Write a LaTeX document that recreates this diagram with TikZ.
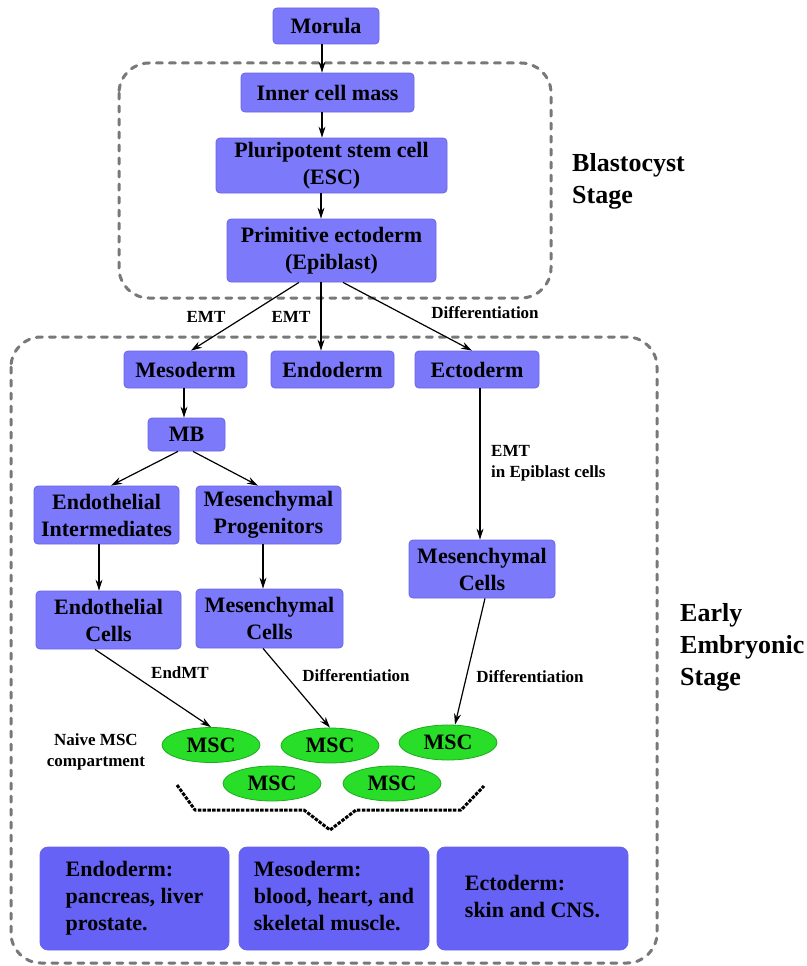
\documentclass[tikz,border=0pt]{standalone}
\usepackage{fontspec}
\setmainfont{Liberation Serif}
\usetikzlibrary{arrows.meta,shapes.geometric}
\definecolor{boxblue}{RGB}{124,121,250}
\definecolor{boxedge}{RGB}{104,100,232}
\definecolor{bigblue}{RGB}{102,98,246}
\definecolor{mscgreen}{RGB}{40,222,40}
\definecolor{mscedge}{RGB}{30,170,30}
\definecolor{stagegray}{RGB}{120,120,120}
\begin{document}
\begin{tikzpicture}[x=1pt,y=-1pt,
  cellbox/.style={draw=boxedge,line width=0.8pt,fill=boxblue,rounded corners=4pt,
    font=\fontsize{22}{27}\selectfont\bfseries,align=center,inner sep=0pt},
  bigbox/.style={draw=boxedge,line width=0.8pt,fill=bigblue,rounded corners=8pt,
    font=\fontsize{22}{27}\selectfont\bfseries,inner sep=0pt,
    minimum height=103pt},
  msc/.style={ellipse,draw=mscedge,line width=0.8pt,fill=mscgreen,minimum width=98pt,
    minimum height=35pt,inner sep=0pt,font=\fontsize{22}{27}\selectfont\bfseries},
  stagebox/.style={draw=stagegray,line width=3pt,dash pattern=on 6pt off 7pt,
    line cap=round,rounded corners=30pt},
  stagelabel/.style={font=\fontsize{26}{32}\selectfont\bfseries,align=left,anchor=west,inner sep=0pt},
  lab/.style={font=\fontsize{17}{21}\selectfont\bfseries,inner sep=0pt},
  arr/.style={-{Stealth[length=11pt,width=7pt]},line width=1.2pt},
]
\useasboundingbox (0,0) rectangle (806,966);

% stage frames
\draw[stagebox] (119,63) rectangle (551,298);
\draw[stagebox] (11,337) rectangle (657,963);
\node[stagelabel] (blast) at (572,181) {Blastocyst\\Stage};
\node[stagelabel] (early) at (680,647) {Early\\Embryonic\\Stage};

% blastocyst column
\node[cellbox,minimum width=106pt,minimum height=36pt] (morula) at (326,26) {Morula};
\node[cellbox,minimum width=173pt,minimum height=39pt] (icm) at (327.5,92.5) {Inner cell mass};
\node[cellbox,minimum width=231pt,minimum height=55pt] (esc) at (331.5,165.5) {Pluripotent stem cell\\(ESC)};
\node[cellbox,minimum width=209pt,minimum height=63pt] (epi) at (331.5,250.5) {Primitive ectoderm\\(Epiblast)};

\draw[arr] ([xshift=-4pt]morula.south) -- ([xshift=-5.5pt]icm.north);
\draw[arr] ([xshift=-5.5pt]icm.south) -- ([xshift=-9.5pt]esc.north);
\draw[arr] ([xshift=-10.5pt]esc.south) -- ([xshift=-10.5pt]epi.north);

% germ layers
\node[cellbox,minimum width=123pt,minimum height=37pt] (meso) at (185.5,369.5) {Mesoderm};
\node[cellbox,minimum width=123pt,minimum height=37pt] (endo) at (332.5,369.5) {Endoderm};
\node[cellbox,minimum width=124pt,minimum height=37pt] (ecto) at (477,369.5) {Ectoderm};

\draw[arr] ([xshift=-32.5pt]epi.south) -- ([xshift=5.5pt]meso.north);
\draw[arr] ([xshift=-10.5pt]epi.south) -- ([xshift=-11.5pt]endo.north);
\draw[arr] ([xshift=11.5pt]epi.south) -- ([xshift=-5pt]ecto.north);
\node[lab] (lemt1) at (206,317) {EMT};
\node[lab] (lemt2) at (291,317) {EMT};
\node[lab] (ldiff0) at (485,313) {Differentiation};

% mesoderm branch
\node[cellbox,minimum width=77pt,minimum height=33pt] (mb) at (186.5,434.5) {MB};
\draw[arr] ([xshift=-1.5pt]meso.south) -- ([xshift=-2.5pt]mb.north);
\node[cellbox,minimum width=145pt,minimum height=58pt] (ei) at (106.5,515) {Endothelial\\Intermediates};
\node[cellbox,minimum width=145pt,minimum height=58pt] (mp) at (268.5,515) {Mesenchymal\\Progenitors};
\draw[arr] ([xshift=-8.5pt]mb.south) -- ([xshift=4.5pt]ei.north);
\draw[arr] ([xshift=6.5pt]mb.south) -- ([xshift=-10.5pt]mp.north);
\node[cellbox,minimum width=145pt,minimum height=58pt] (ec) at (108.5,620) {Endothelial\\Cells};
\node[cellbox,minimum width=147pt,minimum height=59pt] (mc) at (269.5,618.5) {Mesenchymal\\Cells};
\draw[arr] ([xshift=-7.5pt]ei.south) -- ([xshift=-9.5pt]ec.north);
\draw[arr] ([xshift=-5.5pt]mp.south) -- ([xshift=-6.5pt]mc.north);

% ectoderm branch
\node[cellbox,minimum width=146pt,minimum height=58pt] (mcr) at (482,569) {Mesenchymal\\Cells};
\draw[arr] ([xshift=3pt]ecto.south) -- ([xshift=-2pt]mcr.north);
\node[lab,anchor=west,align=left,font=\fontsize{17}{21}\selectfont\bfseries] (lemt3) at (491,463.5) {EMT\\in Epiblast cells};

% MSC compartment
\node[msc] (msc1) at (211,745) {MSC};
\node[msc] (msc2) at (330,745.5) {MSC};
\node[msc] (msc3) at (448,742.5) {MSC};
\node[msc] (msc4) at (272,783.5) {MSC};
\node[msc] (msc5) at (392,783.5) {MSC};
\node[lab,align=center] (naive) at (96,751.5) {Naive MSC\\compartment};

\draw[arr] ([xshift=-13.5pt]ec.south) -- (msc1.north);
\draw[arr] ([xshift=-6.5pt]mc.south) -- (msc2.north);
\draw[arr] ([xshift=3pt]mcr.south) -- ([xshift=7pt]msc3.north);
\node[lab] (lendmt) at (180,673) {EndMT};
\node[lab] (ldiff1) at (356,676) {Differentiation};
\node[lab] (ldiff2) at (530,677) {Differentiation};

% brace
\coordinate (b1) at (177,785);
\coordinate (b2) at (195,810);
\coordinate (b3) at (304,810);
\coordinate (b4) at (330,830);
\coordinate (b5) at (356,810);
\coordinate (b6) at (461,810);
\coordinate (b7) at (484,786);
\draw[line width=3pt,dash pattern=on 3.5pt off 1.3pt,line join=round] (b1) -- (b2) -- (b3) -- (b4) -- (b5) -- (b6) -- (b7);

% derivative tissues
\node[bigbox,minimum width=189pt] (tendo) at (134.5,898.5) {\begin{tabular}{@{}l@{}}Endoderm:\\pancreas, liver\\prostate.\end{tabular}};
\node[bigbox,minimum width=190pt] (tmeso) at (334,898.5) {\raisebox{3pt}{\begin{tabular}{@{}l@{}}Mesoderm:\\blood, heart, and\\skeletal muscle.\end{tabular}}};
\node[bigbox,minimum width=191pt] (tecto) at (532.5,898.5) {\raisebox{6pt}{\begin{tabular}{@{}l@{}}Ectoderm:\\skin and CNS.\end{tabular}}};
\end{tikzpicture}
\end{document}
